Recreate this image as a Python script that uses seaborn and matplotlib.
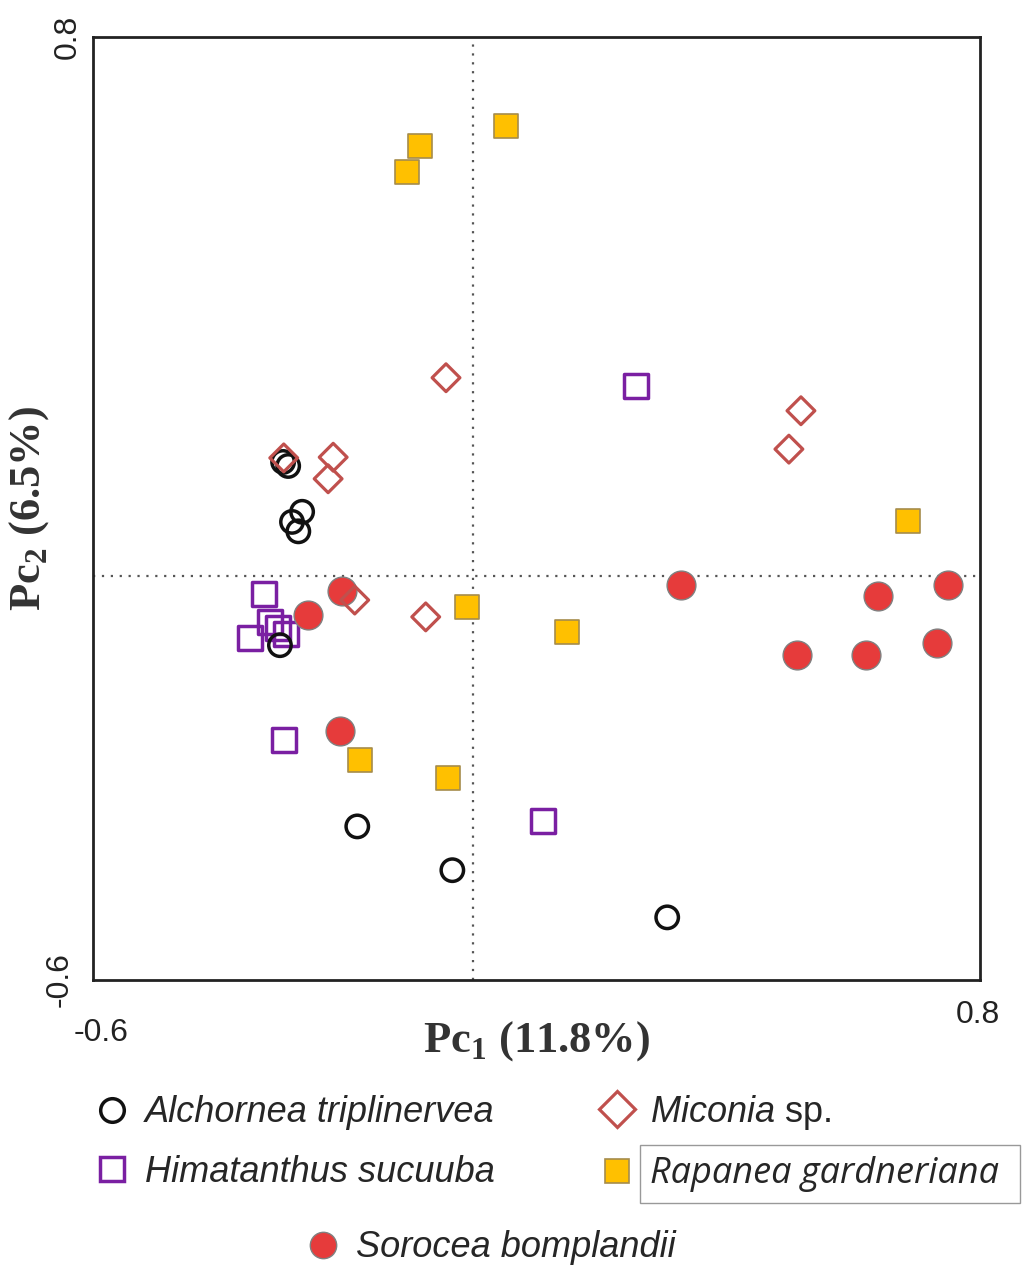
import pandas as pd
import matplotlib.pyplot as plt
import seaborn as sns
from matplotlib.lines import Line2D

# PCA scores
alch_x = [-0.300, -0.292, -0.270, -0.286, -0.276, -0.305, -0.183, -0.033, 0.306]
alch_y = [0.169, 0.163, 0.095, 0.080, 0.066, -0.103, -0.372, -0.437, -0.507]

mic_x = [-0.043, -0.299, -0.221, -0.229, -0.187, -0.075, 0.517, 0.498]
mic_y = [0.294, 0.175, 0.176, 0.144, -0.036, -0.061, 0.245, 0.188]

him_x = [0.257, -0.330, -0.352, -0.321, -0.295, -0.308, -0.299, 0.110]
him_y = [0.282, -0.027, -0.092, -0.069, -0.087, -0.078, -0.244, -0.364]

rap_x = [0.052, -0.084, -0.105, 0.686, -0.010, 0.148, -0.179, -0.040]
rap_y = [0.668, 0.638, 0.600, 0.081, -0.046, -0.084, -0.274, -0.300]

sor_x = [-0.207, -0.261, -0.210, 0.328, 0.639, 0.749, 0.511, 0.620, 0.732]
sor_y = [-0.023, -0.058, -0.231, -0.014, -0.030, -0.014, -0.118, -0.118, -0.100]

x_label = r'Pc$_\mathbf{1}$ (11.8%)'
y_label = r'Pc$_\mathbf{2}$ (6.5%)'

sns.set_style('white')
plt.rcParams['font.family'] = ['Liberation Sans', 'DejaVu Sans']
plt.rcParams['mathtext.fontset'] = 'custom'
plt.rcParams['mathtext.bf'] = 'Liberation Serif:bold'
plt.rcParams['mathtext.rm'] = 'Liberation Sans'
plt.rcParams['mathtext.it'] = 'Liberation Sans:italic'

# style per species, in drawing order (later ones on top)
styles = {
    'Rapanea gardneriana': dict(x=rap_x, y=rap_y, marker='s', s=310, facecolor='#ffc000',
                                edgecolor='#a68c4c', linewidth=1.2, ms=17),
    'Himatanthus sucuuba': dict(x=him_x, y=him_y, marker='s', s=300, facecolor='none',
                                edgecolor='#7a1fa2', linewidth=2.5, ms=17),
    'Sorocea bomplandii': dict(x=sor_x, y=sor_y, marker='o', s=430, facecolor='#e63b3b',
                               edgecolor='#808080', linewidth=1.0, ms=19),
    'Alchornea triplinervea': dict(x=alch_x, y=alch_y, marker='o', s=260, facecolor='none',
                                   edgecolor='#111111', linewidth=2.5, ms=17),
    'Miconia sp.': dict(x=mic_x, y=mic_y, marker='D', s=200, facecolor='none',
                        edgecolor='#c0504d', linewidth=2.3, ms=18),
}

fig = plt.figure(figsize=(10.33, 12.66), dpi=100)
ax = fig.add_axes([0.090, 0.2259, 0.859, 0.745])

for name, st in styles.items():
    df = pd.DataFrame({'x': st['x'], 'y': st['y']})
    sns.scatterplot(data=df, x='x', y='y', ax=ax, marker=st['marker'], s=st['s'],
                    facecolor=st['facecolor'], edgecolor=st['edgecolor'],
                    linewidth=st['linewidth'], legend=False, zorder=3)

ax.axhline(0, color='#555555', linestyle=(0, (1, 3)), linewidth=1.6, zorder=1)
ax.axvline(0, color='#555555', linestyle=(0, (1, 3)), linewidth=1.6, zorder=1)

ax.set_xlim(-0.6, 0.8)
ax.set_ylim(-0.6, 0.8)
ax.set_xticks([])
ax.set_yticks([])
for sp in ax.spines.values():
    sp.set_color('#222222')
    sp.set_linewidth(2.0)

# end-of-axis values
tick_kw = dict(fontsize=23, color='#222222', ha='center', va='center', textcoords='offset points')
ax.annotate('-0.6', xy=(-0.6, 0), xycoords=('data', 'axes fraction'), xytext=(6, -38), **tick_kw)
ax.annotate('0.8', xy=(0.8, 0), xycoords=('data', 'axes fraction'), xytext=(-2, -25), **tick_kw)
ax.annotate('-0.6', xy=(0, -0.6), xycoords=('axes fraction', 'data'), xytext=(-24, 0),
            rotation=90, **tick_kw)
ax.annotate('0.8', xy=(0, 0.8), xycoords=('axes fraction', 'data'), xytext=(-18, 0),
            rotation=90, **tick_kw)

ax.set_xlabel(x_label, fontsize=32, fontfamily='Liberation Serif', fontweight='bold',
              color='#333333', labelpad=28)
ax.set_ylabel(y_label, fontsize=32, fontfamily='Liberation Serif', fontweight='bold',
              color='#333333', labelpad=30)


def handle(name):
    st = styles[name]
    return Line2D([], [], linestyle='none', marker=st['marker'], markersize=st['ms'],
                  markerfacecolor=st['facecolor'], markeredgecolor=st['edgecolor'],
                  markeredgewidth=st['linewidth'])


leg_kw = dict(frameon=False, fontsize=26, handlelength=1.0, handletextpad=0.42,
              borderpad=0, borderaxespad=0, labelspacing=0.68)

left = ['Alchornea triplinervea', 'Himatanthus sucuuba']
leg1 = fig.legend([handle(n) for n in left], left, loc='center left',
                  bbox_to_anchor=(0.091, 0.0976), **leg_kw)
for t in leg1.get_texts():
    t.set_style('italic')

right = ['Miconia sp.', 'Rapanea gardneriana']
leg2 = fig.legend([handle(n) for n in right], [r'$\mathit{Miconia}$ sp.', 'Rapanea gardneriana '],
                  loc='center left', bbox_to_anchor=(0.580, 0.0976), **leg_kw)
rap_text = leg2.get_texts()[1]
rap_text.set_fontfamily(['Open Sans', 'DejaVu Sans'])
rap_text.set_style('italic')
rap_text.set_bbox(dict(boxstyle='square,pad=0.3', facecolor='white', edgecolor='#999999', linewidth=1))

leg3 = fig.legend([handle('Sorocea bomplandii')], ['Sorocea bomplandii'], loc='center left',
                  bbox_to_anchor=(0.295, 0.0143), **leg_kw)
leg3.get_texts()[0].set_style('italic')

fig.savefig('out.png', dpi=100, facecolor='white')
